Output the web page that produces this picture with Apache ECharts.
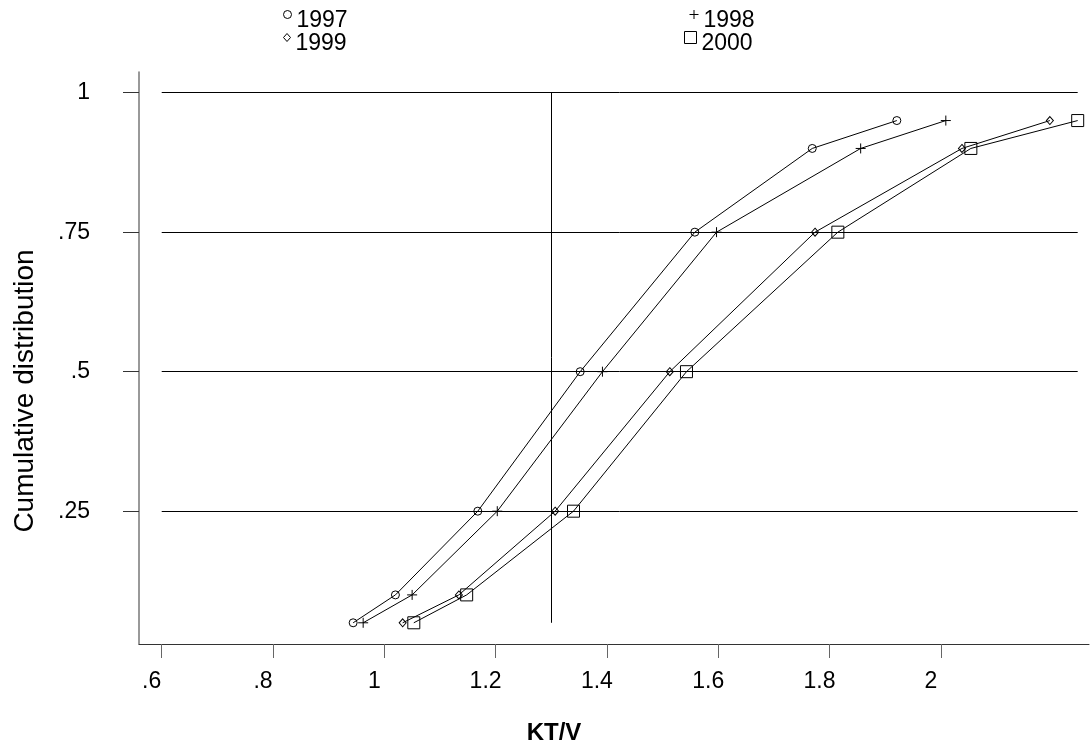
<!DOCTYPE html>
<html>
<head>
<meta charset="utf-8">
<script src="https://cdn.jsdelivr.net/npm/echarts@6/dist/echarts.min.js"></script>
<style>html,body{margin:0;padding:0;background:#fff}#c{width:1091px;height:750px}</style>
</head>
<body>
<div id="c"></div>
<script>
// Cumulative probabilities (y) and KT/V quantiles (x) per year
const probs   = [0.05, 0.10, 0.25, 0.50, 0.75, 0.90, 0.95];
const kt1997  = [0.944, 1.020, 1.168, 1.352, 1.558, 1.769, 1.921];
const kt1998  = [0.962, 1.050, 1.203, 1.392, 1.597, 1.856, 2.009];
const kt1999  = [1.033, 1.134, 1.307, 1.513, 1.774, 2.038, 2.196];
const kt2000  = [1.053, 1.148, 1.340, 1.543, 1.815, 2.054, 2.246];
const xTicks  = [0.6, 0.8, 1.0, 1.2, 1.4, 1.6, 1.8, 2.0];
const yTicks  = [0.25, 0.5, 0.75, 1.0];
const gridRange = [0.6, 2.246];   // horizontal reference lines span (x)
const refX = 1.3;                 // vertical reference line
const refYRange = [0.05, 1.0];

const FONT = "'Liberation Sans', Arial, sans-serif";
const fmt = v => { let s = String(+v.toFixed(2)); return s.startsWith('0.') ? s.slice(1) : s; };
const pairs = arr => arr.map((x, i) => [x, probs[i]]);
const plusPath = 'path://M0,5L10,5M5,0L5,10';

const hollow = { color: 'transparent', borderColor: '#000', borderWidth: 1 };
function mkSeries(name, data, symbol, size) {
  return {
    name, type: 'line', data: pairs(data), symbol, symbolSize: size,
    showSymbol: true, itemStyle: hollow,
    lineStyle: { color: '#000', width: 1 }, emphasis: { disabled: true },
    z: 3
  };
}
const series = [
  mkSeries('1997', kt1997, 'circle', 8),
  mkSeries('1998', kt1998, plusPath, 10),
  mkSeries('1999', kt1999, 'diamond', [7, 8]),
  mkSeries('2000', kt2000, 'rect', 12)
];
const mlData = yTicks.map(v => [{ coord: [gridRange[0], v] }, { coord: [gridRange[1], v] }]);
mlData.push([{ coord: [refX, refYRange[0]] }, { coord: [refX, refYRange[1]] }]);
series.push({
  type: 'line', data: [], silent: true,
  markLine: { silent: true, symbol: 'none', animation: false, label: { show: false },
    lineStyle: { color: '#000', width: 1, type: 'solid' }, data: mlData }
});

function mkLegend(name, icon, left, top, w, h) {
  return {
    data: [{ name, icon }], left, top, itemWidth: w, itemHeight: h, itemGap: 0,
    itemStyle: { color: 'transparent', borderColor: '#000', borderWidth: 1 },
    formatter: n => '{t|' + n + '}',
    textStyle: { fontFamily: FONT, fontSize: 23, color: '#000',
      rich: { t: { fontFamily: FONT, fontSize: 23, color: '#000', padding: [12, 0, 0, 0] } } },
    selectedMode: false
  };
}

const chart = echarts.init(document.getElementById('c'), null, { renderer: 'canvas' });
chart.setOption({
  animation: false,
  backgroundColor: '#fff',
  legend: [
    mkLegend('1997', 'circle', 278, 4, 8, 8),
    mkLegend('1998', plusPath, 684, 4, 9, 9),
    mkLegend('1999', 'diamond', 278, 27, 7, 8),
    mkLegend('2000', 'rect', 679, 26, 12, 12)
  ],
  grid: { left: 139, right: 2, top: 72, bottom: 104, containLabel: false },
  xAxis: {
    type: 'value', min: 0.5592, max: 2.2663,
    name: 'KT/V', nameLocation: 'middle', nameGap: 77,
    nameTextStyle: { fontFamily: FONT, fontSize: 24, fontWeight: 'bold', color: '#000', padding: [0, 120, 0, 0] },
    axisLine: { show: true, onZero: false, lineStyle: { color: '#333', width: 1 } },
    axisTick: { show: true, length: 14, customValues: xTicks, lineStyle: { color: '#666', width: 1 } },
    axisLabel: { customValues: xTicks, formatter: fmt, fontFamily: FONT, fontSize: 23, color: '#000', margin: 26, padding: [0, 20, 0, 0] },
    splitLine: { show: false }
  },
  yAxis: {
    type: 'value', min: 0.012, max: 1.037,
    name: 'Cumulative distribution', nameLocation: 'middle', nameGap: 100, nameRotate: 90,
    nameTextStyle: { fontFamily: FONT, fontSize: 28, color: '#000', padding: [0, 66, 0, 0] },
    axisLine: { show: true, onZero: false, lineStyle: { color: '#777', width: 1.5 } },
    axisTick: { show: true, length: 16, customValues: yTicks, lineStyle: { color: '#333', width: 1 } },
    axisLabel: { customValues: yTicks, formatter: fmt, fontFamily: FONT, fontSize: 23, color: '#000', margin: 49, padding: [20, 0, 0, 0] },
    splitLine: { show: false }
  },
  series
});
</script>
</body>
</html>
